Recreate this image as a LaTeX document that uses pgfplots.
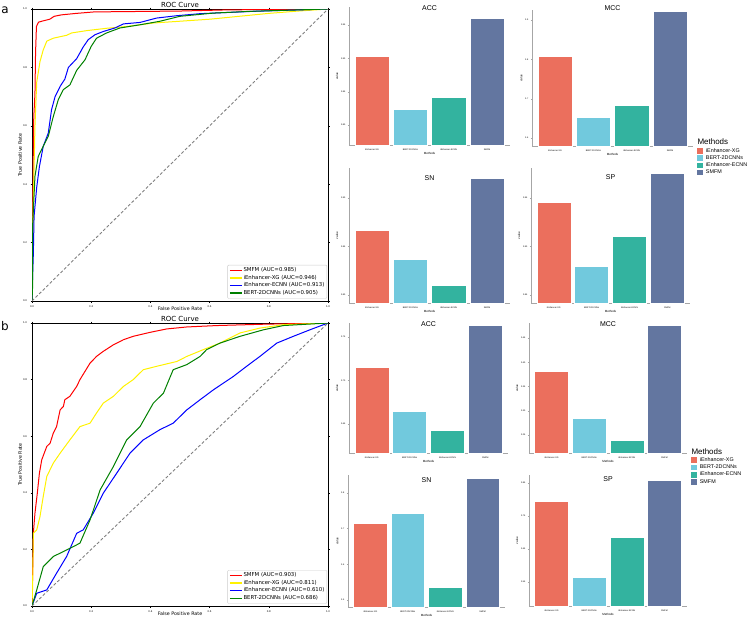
\documentclass[border=0pt]{standalone}
\usepackage{fontspec}
\setmainfont{DejaVu Sans}
\newfontfamily\libsans{Liberation Sans}
\usepackage{pgfplots}
\pgfplotsset{compat=1.18}
\definecolor{cXG}{HTML}{EB6F5D}
\definecolor{cBERT}{HTML}{71C9DD}
\definecolor{cECNN}{HTML}{33B39F}
\definecolor{cSMFM}{HTML}{6376A0}
\definecolor{mplgreen}{HTML}{008000}
\pgfplotsset{
 every axis title shift=0pt,
 rocstyle/.style={
   scale only axis, xmin=0,xmax=1,ymin=0,ymax=1,
   xtick={0,0.2,0.4,0.6,0.8,1}, ytick={0,0.2,0.4,0.6,0.8,1},
   xticklabels={0.0,0.2,0.4,0.6,0.8,1.0}, yticklabels={0.0,0.2,0.4,0.6,0.8,1.0},
   tick label style={font=\fontsize{2.5}{3}\selectfont},
   tick align=outside, major tick length=1.5bp, tick style={black, line width=0.3bp},
   axis line style={line width=0.4bp},
   title={ROC Curve}, title style={at={(axis description cs:0.5,1)}, anchor=base, yshift=1.5bp, font=\fontsize{7}{8}\selectfont},
   xlabel={False Positive Rate}, ylabel={True Positive Rate},
   label style={font=\fontsize{4.8}{5.5}\selectfont},
   xlabel style={at={(axis description cs:0.5,0)}, anchor=north, yshift=-2.8bp},
   ylabel style={at={(axis description cs:-0.022,0.5)}, anchor=south, rotate=0},
   legend style={at={(0.997,0.008)}, anchor=south east, font=\fontsize{5.4}{6.2}\selectfont,
     draw=gray!40, rounded corners=1bp, inner sep=1.5bp, row sep=0pt, legend cell align=left,
     nodes={inner sep=1bp}},
   legend image code/.code={\draw[##1, line width=1.4bp] (0bp,0bp) -- (12bp,0bp);},
   every axis plot/.append style={line width=1bp, line join=round},
 },
 barstyle/.style={
   scale only axis, xmin=-0.6, xmax=3.6,
   axis x line*=bottom, axis y line*=left,
   axis line style={-, gray!70, line width=0.45bp},
   xtick={0,1,2,3}, xticklabels={iEnhancer-XG,BERT-2DCNNs,iEnhancer-ECNN,SMFM},
   tick label style={font=\libsans\fontsize{2.2}{2.6}\selectfont},
   tick align=outside, major tick length=1.2bp, tick style={gray!70, line width=0.3bp},
   xticklabel style={yshift=1bp}, yticklabel style={xshift=1bp},
   xlabel={Methods}, ylabel={value},
   label style={font=\libsans\fontsize{3}{3.5}\selectfont},
   xlabel style={yshift=4.5bp}, ylabel style={yshift=-4bp},
   title style={font=\libsans\fontsize{7}{8}\selectfont, anchor=center},
   every axis plot/.append style={ybar, bar width=0.9, bar shift=0pt, draw=white, line width=0.3bp},
   legend style={draw=none, fill=none, font=\libsans\fontsize{5.4}{6}\selectfont,
     inner sep=0pt, row sep=1.1bp, legend cell align=left, anchor=north west,
     nodes={inner sep=0.4bp}},
   legend image code/.code={\fill[##1, draw=none] (0bp,-2.8bp) rectangle (5.6bp,2.8bp); \path (8.2bp,0bp);},
 },
}
\begin{document}
\begin{tikzpicture}
\useasboundingbox (0bp,0bp) rectangle (750bp,-619bp);
\node[font=\fontsize{12}{13}\selectfont] at (5bp,-10bp) {a};
\node[font=\fontsize{12}{13}\selectfont] at (5bp,-326bp) {b};
% ROC a
\begin{axis}[rocstyle, at={(32bp,-301bp)}, anchor=south west, width=296bp, height=292bp]
\addplot[red] coordinates {(0,0) (0.002,0.2) (0.004,0.48) (0.006,0.63) (0.01,0.71) (0.012,0.85) (0.015,0.94) (0.022,0.955) (0.04,0.96) (0.06,0.965) (0.075,0.975) (0.1,0.98) (0.15,0.985) (0.21,0.99) (0.5,0.993) (0.66,0.997) (1,1)};
\addlegendentry{SMFM (AUC=0.985)}
\addplot[yellow] coordinates {(0,0) (0.002,0.2) (0.004,0.33) (0.008,0.5) (0.01,0.6) (0.016,0.75) (0.027,0.82) (0.038,0.86) (0.05,0.89) (0.072,0.9) (0.117,0.91) (0.134,0.918) (0.185,0.926) (0.252,0.934) (0.32,0.94) (0.41,0.952) (0.6,0.965) (0.8,0.985) (0.9,0.993) (1,1)};
\addlegendentry{iEnhancer-XG (AUC=0.946)}
\addplot[blue] coordinates {(0,0) (0.002,0.085) (0.0045,0.16) (0.007,0.29) (0.016,0.39) (0.025,0.46) (0.038,0.53) (0.055,0.575) (0.066,0.655) (0.078,0.70) (0.095,0.735) (0.111,0.76) (0.123,0.80) (0.151,0.83) (0.173,0.87) (0.19,0.895) (0.213,0.912) (0.241,0.923) (0.28,0.935) (0.309,0.949) (0.365,0.954) (0.421,0.969) (0.489,0.977) (0.568,0.984) (0.748,0.992) (1,1)};
\addlegendentry{iEnhancer-ECNN (AUC=0.913)}
\addplot[mplgreen] coordinates {(0,0) (0.002,0.05) (0.002,0.256) (0.01,0.427) (0.021,0.495) (0.038,0.53) (0.055,0.564) (0.072,0.632) (0.089,0.69) (0.106,0.724) (0.128,0.74) (0.151,0.79) (0.179,0.826) (0.2,0.872) (0.218,0.9) (0.252,0.918) (0.297,0.935) (0.365,0.946) (0.432,0.958) (0.5,0.975) (0.613,0.986) (0.736,0.992) (1,1)};
\addlegendentry{BERT-2DCNNs (AUC=0.905)}
\addplot[gray, dash pattern=on 3bp off 2bp, line width=0.9bp, forget plot] coordinates {(0,0) (1,1)};
\end{axis}
% ROC b
\begin{axis}[rocstyle, at={(32bp,-606bp)}, anchor=south west, width=296bp, height=283bp]
\addplot[red] coordinates {(0,0) (0.002,0.104) (0.0045,0.257) (0.01,0.328) (0.018,0.399) (0.025,0.469) (0.033,0.517) (0.05,0.564) (0.061,0.575) (0.072,0.611) (0.083,0.634) (0.095,0.693) (0.106,0.705) (0.111,0.729) (0.128,0.741) (0.151,0.776) (0.162,0.8) (0.179,0.829) (0.196,0.858) (0.218,0.882) (0.241,0.9) (0.275,0.923) (0.309,0.941) (0.342,0.953) (0.399,0.967) (0.455,0.979) (0.523,0.986) (0.624,0.991) (0.793,0.996) (1,1)};
\addlegendentry{SMFM (AUC=0.903)}
\addplot[yellow] coordinates {(0,0) (0.002,0.068) (0.0045,0.257) (0.016,0.269) (0.027,0.316) (0.038,0.387) (0.05,0.458) (0.072,0.505) (0.095,0.54) (0.128,0.587) (0.162,0.634) (0.196,0.646) (0.218,0.682) (0.241,0.717) (0.275,0.741) (0.309,0.776) (0.342,0.8) (0.376,0.835) (0.421,0.847) (0.489,0.864) (0.523,0.882) (0.579,0.906) (0.635,0.929) (0.703,0.965) (0.77,0.982) (0.849,0.994) (1,1)};
\addlegendentry{iEnhancer-XG (AUC=0.811)}
\addplot[blue] coordinates {(0,0) (0.016,0.045) (0.05,0.057) (0.083,0.116) (0.117,0.175) (0.151,0.257) (0.173,0.269) (0.207,0.328) (0.241,0.399) (0.286,0.469) (0.331,0.54) (0.376,0.587) (0.432,0.623) (0.477,0.646) (0.523,0.693) (0.568,0.729) (0.613,0.764) (0.68,0.811) (0.725,0.847) (0.77,0.882) (0.827,0.929) (0.883,0.953) (0.939,0.976) (1,1)};
\addlegendentry{iEnhancer-ECNN (AUC=0.610)}
\addplot[mplgreen] coordinates {(0,0) (0.016,0.057) (0.038,0.139) (0.072,0.175) (0.117,0.198) (0.162,0.222) (0.196,0.304) (0.23,0.41) (0.275,0.493) (0.32,0.587) (0.365,0.634) (0.41,0.717) (0.444,0.752) (0.477,0.835) (0.523,0.853) (0.568,0.882) (0.59,0.906) (0.635,0.929) (0.703,0.953) (0.782,0.976) (0.849,0.991) (1,1)};
\addlegendentry{BERT-2DCNNs (AUC=0.686)}
\addplot[gray, dash pattern=on 3bp off 2bp, line width=0.9bp, forget plot] coordinates {(0,0) (1,1)};
\end{axis}
% ACC a
\begin{axis}[barstyle, at={(349bp,-145bp)}, anchor=south west, width=161bp, height=138bp,
  ymin=0.77, ymax=0.977, ytick={0.80,0.85,0.90,0.95}, yticklabels={0.80,0.85,0.90,0.95},
  title={ACC}, title style={at={(0.5,0.993)}}]
\addplot[fill=cXG] coordinates {(0,0.9035)};
\addplot[fill=cBERT] coordinates {(1,0.824)};
\addplot[fill=cECNN] coordinates {(2,0.842)};
\addplot[fill=cSMFM] coordinates {(3,0.9605)};
\end{axis}
% MCC a
\begin{axis}[barstyle, at={(532bp,-146bp)}, anchor=south west, width=161bp, height=136bp,
  ymin=0.5796, ymax=0.926, ytick={0.6,0.7,0.8,0.9}, yticklabels={0.6,0.7,0.8,0.9},
  title={MCC}, title style={at={(0.5,1.015)}},
  legend style={at={(1.025,0.055)}}]
\addlegendimage{empty legend}
\addlegendentry{\hspace{-8.4bp}\fontsize{8}{9}\selectfont Methods\rule[-2bp]{0pt}{2bp}}
\addplot[fill=cXG] coordinates {(0,0.809)};
\addlegendentry{iEnhancer-XG}
\addplot[fill=cBERT] coordinates {(1,0.653)};
\addlegendentry{BERT-2DCNNs}
\addplot[fill=cECNN] coordinates {(2,0.684)};
\addlegendentry{iEnhancer-ECNN}
\addplot[fill=cSMFM] coordinates {(3,0.923)};
\addlegendentry{SMFM}
\end{axis}
% SN a
\begin{axis}[barstyle, at={(349bp,-303bp)}, anchor=south west, width=161bp, height=135bp,
  ymin=0.7918, ymax=0.931, ytick={0.80,0.85,0.90}, yticklabels={0.80,0.85,0.90},
  title={SN}, title style={at={(0.5,0.926)}}]
\addplot[fill=cXG] coordinates {(0,0.867)};
\addplot[fill=cBERT] coordinates {(1,0.837)};
\addplot[fill=cECNN] coordinates {(2,0.810)};
\addplot[fill=cSMFM] coordinates {(3,0.921)};
\end{axis}
% SP a
\begin{axis}[barstyle, at={(531bp,-303bp)}, anchor=south west, width=159bp, height=135bp,
  ymin=0.8418, ymax=0.981, ytick={0.85,0.90,0.95}, yticklabels={0.85,0.90,0.95},
  title={SP}, title style={at={(0.5,0.933)}}]
\addplot[fill=cXG] coordinates {(0,0.946)};
\addplot[fill=cBERT] coordinates {(1,0.880)};
\addplot[fill=cECNN] coordinates {(2,0.911)};
\addplot[fill=cSMFM] coordinates {(3,0.976)};
\end{axis}
% ACC b
\begin{axis}[barstyle, at={(349bp,-453bp)}, anchor=south west, width=159bp, height=130bp,
  ymin=0.6167, ymax=0.766, ytick={0.65,0.70,0.75}, yticklabels={0.65,0.70,0.75},
  title={ACC}, title style={at={(0.5,0.992)}}]
\addplot[fill=cXG] coordinates {(0,0.7155)};
\addplot[fill=cBERT] coordinates {(1,0.665)};
\addplot[fill=cECNN] coordinates {(2,0.643)};
\addplot[fill=cSMFM] coordinates {(3,0.764)};
\end{axis}
% MCC b
\begin{axis}[barstyle, at={(529bp,-453bp)}, anchor=south west, width=158bp, height=130bp,
  ymin=0.213, ymax=0.481, ytick={0.25,0.30,0.35,0.40,0.45}, yticklabels={0.25,0.30,0.35,0.40,0.45},
  title={MCC}, title style={at={(0.5,0.992)}},
  legend style={at={(1.025,0.04)}}]
\addlegendimage{empty legend}
\addlegendentry{\hspace{-8.4bp}\fontsize{8}{9}\selectfont Methods\rule[-2bp]{0pt}{2bp}}
\addplot[fill=cXG] coordinates {(0,0.382)};
\addlegendentry{iEnhancer-XG}
\addplot[fill=cBERT] coordinates {(1,0.285)};
\addlegendentry{BERT-2DCNNs}
\addplot[fill=cECNN] coordinates {(2,0.240)};
\addlegendentry{iEnhancer-ECNN}
\addplot[fill=cSMFM] coordinates {(3,0.477)};
\addlegendentry{SMFM}
\end{axis}
% SN b
\begin{axis}[barstyle, at={(348bp,-607bp)}, anchor=south west, width=157bp, height=132bp,
  ymin=0.4804, ymax=0.85, ytick={0.5,0.6,0.7,0.8}, yticklabels={0.5,0.6,0.7,0.8},
  title={SN}, title style={at={(0.5,0.962)}}]
\addplot[fill=cXG] coordinates {(0,0.716)};
\addplot[fill=cBERT] coordinates {(1,0.744)};
\addplot[fill=cECNN] coordinates {(2,0.536)};
\addplot[fill=cSMFM] coordinates {(3,0.842)};
\end{axis}
% SP b
\begin{axis}[barstyle, at={(529bp,-606bp)}, anchor=south west, width=158bp, height=131bp,
  ymin=0.477, ymax=0.874, ytick={0.55,0.65,0.75,0.85}, yticklabels={0.55,0.65,0.75,0.85},
  title={SP}, title style={at={(0.5,0.969)}}]
\addplot[fill=cXG] coordinates {(0,0.795)};
\addplot[fill=cBERT] coordinates {(1,0.565)};
\addplot[fill=cECNN] coordinates {(2,0.686)};
\addplot[fill=cSMFM] coordinates {(3,0.859)};
\end{axis}
\end{tikzpicture}
\end{document}
